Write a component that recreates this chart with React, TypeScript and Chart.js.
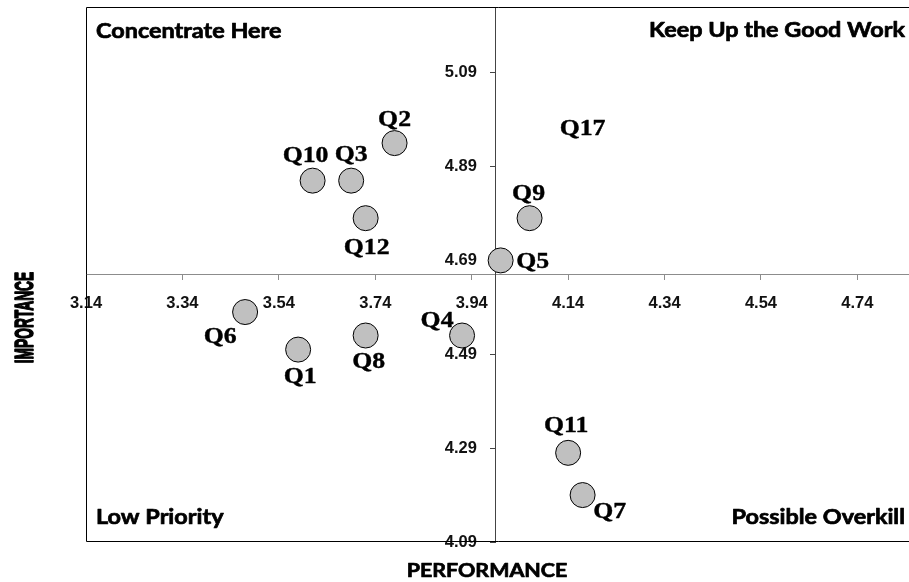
import React, { useEffect, useRef } from 'react';
import { Chart, registerables } from 'chart.js';

Chart.register(...registerables);

// ---- data ----
const questionLabels = ['Q1', 'Q2', 'Q3', 'Q4', 'Q5', 'Q6', 'Q7', 'Q8', 'Q9', 'Q10', 'Q11', 'Q12', 'Q17'];
const performanceValues = [3.58, 3.78, 3.69, 3.92, 4.0, 3.47, 4.17, 3.72, 4.06, 3.61, 4.14, 3.72, 4.17];
const importanceValues = [4.5, 4.94, 4.86, 4.53, 4.69, 4.58, 4.19, 4.53, 4.78, 4.86, 4.28, 4.78, 4.92];
const markerVisible = [true, true, true, true, true, true, true, true, true, true, true, true, false];
const xTickValues = [3.14, 3.34, 3.54, 3.74, 3.94, 4.14, 4.34, 4.54, 4.74];
const yTickValues = [4.09, 4.29, 4.49, 4.69, 4.89, 5.09];
const quadrantTitles = ['Concentrate Here', 'Keep Up the Good Work', 'Low Priority', 'Possible Overkill'];
const xAxisTitle = 'PERFORMANCE';
const yAxisTitle = 'IMPORTANCE';
const performanceCross = 3.99;
const importanceCross = 4.66;
const xMin = 3.14;
const xMax = 4.847;
const yMin = 4.09;
const yMax = 5.23;

// label placement (pixels from marker centre to label centre)
const labelOffsets: [number, number][] = [
  [2, 26], [0, -25], [0, -27], [-25, -16], [32, 0], [-25, 23], [27, 15],
  [3, 25], [-1, -26], [-7, -26], [-2, -28], [1, 28], [0, -25],
];

function stretchedText(ctx: CanvasRenderingContext2D, text: string, x: number, y: number, sx: number, stroke = 0) {
  ctx.save();
  ctx.translate(x, y);
  ctx.scale(sx, 1);
  ctx.fillText(text, 0, 0);
  if (stroke > 0) {
    ctx.lineWidth = stroke;
    ctx.strokeStyle = ctx.fillStyle as string;
    ctx.lineJoin = 'round';
    ctx.strokeText(text, 0, 0);
  }
  ctx.restore();
}

const yLabelShiftPlugin = {
  id: 'yLabelShift',
  beforeDraw(chart: any) {
    const s = chart.scales.y;
    const items = s.getLabelItems();
    if (!items._shifted) {
      items.forEach((it: any) => {
        const tr = it.options.translation;
        it.options.translation = [tr[0] - 19, tr[1]];
      });
      items._shifted = true;
    }
  },
};

const framePlugin = {
  id: 'frame',
  beforeDatasetsDraw(chart: any) {
    const { ctx, chartArea } = chart;
    const l = Math.round(chartArea.left) + 0.5;
    const t = Math.round(chartArea.top) + 0.5;
    const b = Math.round(chartArea.bottom) - 0.5;
    const r = chart.width + 2;
    ctx.save();
    ctx.strokeStyle = '#000';
    ctx.lineWidth = 1;
    ctx.beginPath();
    ctx.moveTo(r, t);
    ctx.lineTo(l, t);
    ctx.lineTo(l, b);
    ctx.lineTo(r, b);
    ctx.stroke();
    ctx.restore();
  },
};

const textPlugin = {
  id: 'texts',
  afterDatasetsDraw(chart: any) {
    const ctx: CanvasRenderingContext2D = chart.ctx;
    const meta = chart.getDatasetMeta(0);
    ctx.save();
    ctx.fillStyle = '#000';
    ctx.font = 'bold 23px "Liberation Serif", "Times New Roman", serif';
    ctx.textAlign = 'center';
    ctx.textBaseline = 'alphabetic';
    meta.data.forEach((pt: any, i: number) => {
      const [dx, dy] = labelOffsets[i];
      stretchedText(ctx, questionLabels[i], pt.x + dx, pt.y + dy + 7.5, 1.12, 0.4);
    });
    ctx.restore();
  },
  afterDraw(chart: any) {
    const ctx: CanvasRenderingContext2D = chart.ctx;
    const { chartArea } = chart;
    ctx.save();
    ctx.fillStyle = '#000';
    ctx.textBaseline = 'alphabetic';
    ctx.font = 'bold 21.3px Lato, "Open Sans", sans-serif';
    // quadrant titles
    ctx.textAlign = 'left';
    stretchedText(ctx, quadrantTitles[0], chartArea.left + 10, 38, 1.1, 0.7);
    stretchedText(ctx, quadrantTitles[2], chartArea.left + 10, 524, 1.1, 0.7);
    ctx.textAlign = 'right';
    stretchedText(ctx, quadrantTitles[1], 905, 36.5, 1.1, 0.7);
    stretchedText(ctx, quadrantTitles[3], 905, 524, 1.1, 0.7);
    // x axis title
    ctx.font = 'bold 19.5px Lato, "Open Sans", sans-serif';
    ctx.textAlign = 'center';
    stretchedText(ctx, xAxisTitle, 487, 577, 1.1, 0.7);
    // y axis title (rotated, compressed along its length)
    ctx.save();
    ctx.translate(33, 317.5);
    ctx.rotate(-Math.PI / 2);
    ctx.scale(0.55, 1);
    ctx.font = 'bold 25px "Liberation Sans", Arial, sans-serif';
    ctx.textAlign = 'center';
    ctx.textBaseline = 'alphabetic';
    ctx.fillText(yAxisTitle, 0, 0);
    ctx.lineWidth = 1.6;
    ctx.strokeStyle = '#000';
    ctx.lineJoin = 'round';
    ctx.strokeText(yAxisTitle, 0, 0);
    ctx.restore();
    ctx.restore();
  },
};

const tickFont = { family: '"Liberation Sans", Arial, sans-serif', size: 16.5, weight: 'bold' as const };

function zeroPadding(s: any) {
  s.paddingTop = 0;
  s.paddingBottom = 0;
  s.paddingLeft = 0;
  s.paddingRight = 0;
}

export default function App() {
  const canvasRef = useRef<HTMLCanvasElement | null>(null);

  useEffect(() => {
    const canvas = canvasRef.current;
    if (!canvas) return;
    const points = performanceValues.map((x, i) => ({ x, y: importanceValues[i] }));
    const chart = new Chart(canvas, {
      type: 'scatter',
      data: {
        labels: questionLabels,
        datasets: [
          {
            data: points,
            backgroundColor: '#c0c0c0',
            borderColor: '#000',
            borderWidth: 1,
            pointRadius: markerVisible.map((v) => (v ? 12.5 : 0)),
            pointHoverRadius: markerVisible.map((v) => (v ? 12.5 : 0)),
            clip: false as any,
          },
        ],
      },
      options: {
        animation: false,
        responsive: false,
        devicePixelRatio: 1,
        events: [],
        layout: { autoPadding: false, padding: { left: 86, top: 7, right: 0, bottom: 40 } },
        plugins: { legend: { display: false }, tooltip: { enabled: false } },
        scales: {
          x: {
            type: 'linear',
            min: xMin,
            max: xMax,
            position: { y: importanceCross } as any,
            afterBuildTicks: (s: any) => {
              s.ticks = xTickValues.map((v) => ({ value: v }));
            },
            afterFit: (s: any) => {
              s.height = 0;
              zeroPadding(s);
            },
            ticks: {
              callback: (v: any) => Number(v).toFixed(2),
              font: tickFont,
              color: '#111',
              padding: 14,
              maxRotation: 0,
              autoSkip: false,
            },
            grid: { drawOnChartArea: false, drawTicks: true, tickLength: 5, tickColor: '#8c8c8c' },
            border: { display: true, color: '#8c8c8c', width: 1 },
          },
          y: {
            type: 'linear',
            min: yMin,
            max: yMax,
            position: { x: performanceCross } as any,
            afterBuildTicks: (s: any) => {
              s.ticks = yTickValues.map((v) => ({ value: v }));
            },
            afterFit: (s: any) => {
              s.width = 0;
              zeroPadding(s);
            },
            ticks: {
              callback: (v: any) => Number(v).toFixed(2),
              font: tickFont,
              color: '#111',
              padding: 14,
              autoSkip: false,
            },
            grid: { drawOnChartArea: false, drawTicks: true, tickLength: 5, tickColor: '#444' },
            border: { display: true, color: '#444', width: 1 },
          },
        },
      },
      plugins: [yLabelShiftPlugin, framePlugin, textPlugin],
    });
    return () => chart.destroy();
  }, []);

  return (
    <div style={{ position: 'fixed', left: 0, top: 0, width: 909, height: 582, background: '#fff' }}>
      <canvas ref={canvasRef} width={909} height={582} style={{ display: 'block' }} />
    </div>
  );
}
